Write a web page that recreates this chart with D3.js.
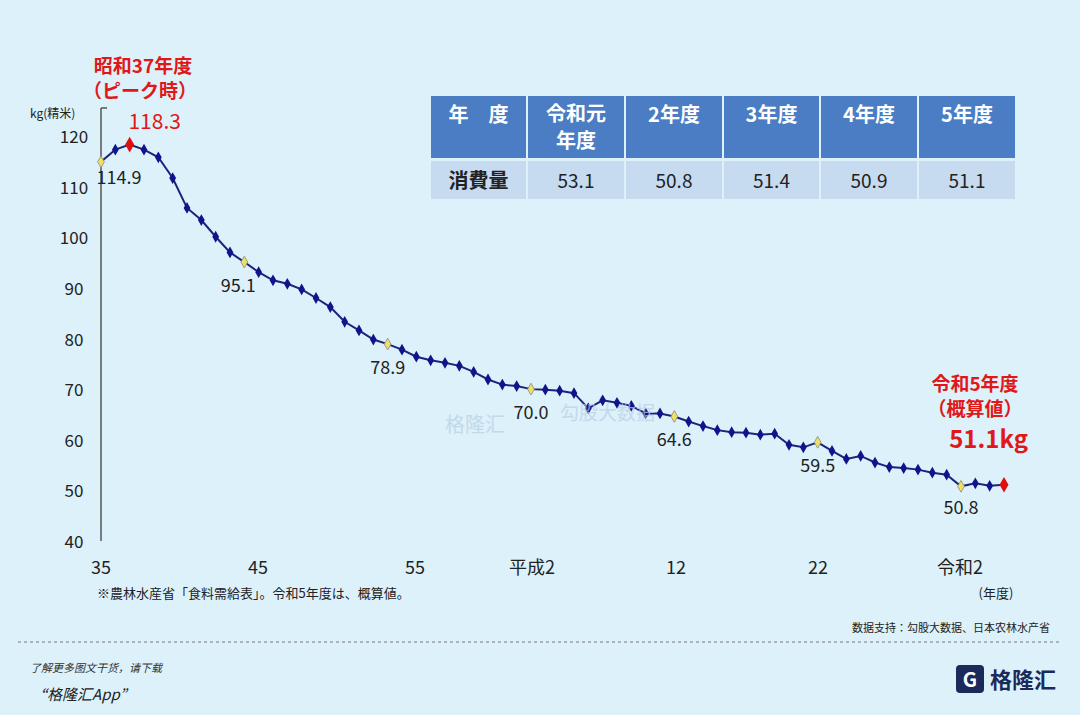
<!DOCTYPE html>
<html><head><meta charset="utf-8">
<script src="https://cdn.jsdelivr.net/npm/d3@7/dist/d3.min.js"></script>
<style>body{margin:0;background:#ddf1fb;font-family:"Noto Sans CJK JP","Noto Sans",sans-serif}</style>
</head><body><svg id="c" width="1080" height="715"></svg>
<script>
const years = d3.range(1960, 2024);
const consumption = [114.9,117.3,118.3,117.3,115.8,111.7,105.8,103.4,100.1,97.0,
95.1,93.1,91.5,90.8,89.7,88.0,86.2,83.3,81.6,79.8,
78.9,77.8,76.4,75.7,75.2,74.6,73.4,71.9,70.9,70.6,
70.0,69.9,69.7,69.2,66.2,67.8,67.3,66.7,65.2,65.2,
64.6,63.6,62.7,61.9,61.5,61.4,61.0,61.2,59.0,58.5,
59.5,57.8,56.2,56.8,55.5,54.6,54.4,54.1,53.5,53.1,
50.8,51.4,50.9,51.1];
const yTicks = [40,50,60,70,80,90,100,110,120];
const xTickLabels = ["35","45","55","平成2","12","22","令和2"];
const labeledYears = [1960,1970,1980,1990,2000,2010,2020];
const tableHead = ["年　度","令和元\n年度","2年度","3年度","4年度","5年度"];
const tableRow = ["消費量","53.1","50.8","51.4","50.9","51.1"];

const svg = d3.select("#c");
const x = d3.scaleLinear().domain([1960,2023]).range([101,1004]);
const y = d3.scaleLinear().domain([40,120]).range([541,136]);

svg.append("line").attr("x1",101).attr("x2",101).attr("y1",108).attr("y2",541).attr("stroke","#555").attr("stroke-width",1.5);
svg.append("line").attr("x1",101).attr("x2",107).attr("y1",108).attr("y2",108).attr("stroke","#555").attr("stroke-width",1.5);
svg.selectAll(".yt").data(yTicks).join("text").attr("x",74).attr("y",d=>y(d)+7)
  .attr("text-anchor","middle").attr("font-size",17).attr("fill","#222").text(d=>d);
svg.append("text").attr("x",30).attr("y",118).attr("font-size",12).attr("fill","#222").text("kg(精米)");
const xlabX = [101,258,415,532,676,818,960];
svg.selectAll(".xt").data(xTickLabels).join("text").attr("x",(d,i)=>xlabX[i]).attr("y",574)
  .attr("text-anchor","middle").attr("font-size",18).attr("fill","#222").text(d=>d);
svg.append("text").attr("x",996).attr("y",598).attr("text-anchor","middle").attr("font-size",13).attr("fill","#222").text("(年度)");
svg.append("text").attr("x",97).attr("y",598).attr("font-size",13).attr("fill","#222").text("※農林水産省「食料需給表」。令和5年度は、概算値。");

const pts = years.map((yr,i)=>({yr,v:consumption[i]}));
svg.append("path").datum(pts).attr("fill","none").attr("stroke","#1a237e").attr("stroke-width",2)
  .attr("d",d3.line().x(d=>x(d.yr)).y(d=>y(d.v)));
const diamond = d3.symbol().type(d3.symbolDiamond);
svg.selectAll(".pt").data(pts).join("path")
  .attr("transform",d=>`translate(${x(d.yr)},${y(d.v)})`)
  .attr("d",d=> diamond.size((d.yr===1962||d.yr===2023)?70:40)())
  .attr("fill",d=>(d.yr===1962||d.yr===2023)?"#e01010":labeledYears.includes(d.yr)?"#f0e060":"#10148a")
  .attr("stroke",d=>labeledYears.includes(d.yr)?"#888":"none").attr("stroke-width",0.8);
const lblOff = {1960:[18,30],1970:[-6,38],1980:[0,38],1990:[0,38],2000:[0,38],2010:[0,38],2020:[0,36]};
svg.selectAll(".pl").data(pts.filter(d=>labeledYears.includes(d.yr))).join("text")
  .attr("x",d=>x(d.yr)+lblOff[d.yr][0]).attr("y",d=>y(d.v)+lblOff[d.yr][1]-8)
  .attr("text-anchor","middle").attr("font-size",18).attr("fill","#222").text(d=>d.v.toFixed(1));

const red="#e01818";
svg.append("text").attr("x",143).attr("y",73).attr("text-anchor","middle").attr("font-size",19).attr("font-weight","bold").attr("fill",red).text("昭和37年度");
svg.append("text").attr("x",140).attr("y",98).attr("text-anchor","middle").attr("font-size",19).attr("font-weight","bold").attr("fill",red).text("（ピーク時）");
svg.append("text").attr("x",x(1962)+25).attr("y",129).attr("text-anchor","middle").attr("font-size",21).attr("fill",red).text("118.3");
svg.append("text").attr("x",975).attr("y",391).attr("text-anchor","middle").attr("font-size",19).attr("font-weight","bold").attr("fill",red).text("令和5年度");
svg.append("text").attr("x",975).attr("y",416).attr("text-anchor","middle").attr("font-size",19).attr("font-weight","bold").attr("fill",red).text("（概算値）");
svg.append("text").attr("x",1028).attr("y",448).attr("text-anchor","end").attr("font-size",24).attr("font-weight","bold").attr("fill",red).text("51.1kg");

const colX=[430,527,625,723,820,918,1016];
tableHead.forEach((t,i)=>{
  svg.append("rect").attr("x",colX[i]).attr("y",95).attr("width",colX[i+1]-colX[i]).attr("height",64).attr("fill","#4a7dc4").attr("stroke","#ddf1fb").attr("stroke-width",2);
  const lines=t.split("\n");
  lines.forEach((l,j)=>svg.append("text").attr("x",(colX[i]+colX[i+1])/2).attr("y",lines.length===1?122:121+j*27)
    .attr("text-anchor","middle").attr("font-size",20).attr("font-weight","bold").attr("fill","#fff").text(l));
  svg.append("rect").attr("x",colX[i]).attr("y",160).attr("width",colX[i+1]-colX[i]).attr("height",40).attr("fill","#c6daf0").attr("stroke","#ddf1fb").attr("stroke-width",2);
  svg.append("text").attr("x",(colX[i]+colX[i+1])/2).attr("y",188).attr("text-anchor","middle").attr("font-size",i===0?20:19).attr("font-weight",i===0?"bold":"normal").attr("fill","#222").text(tableRow[i]);
});

svg.append("text").attr("x",1050).attr("y",632).attr("text-anchor","end").attr("font-size",11).attr("fill","#222").text("数据支持：勾股大数据、日本农林水产省");
svg.append("line").attr("x1",18).attr("x2",1062).attr("y1",642).attr("y2",642).attr("stroke","#777").attr("stroke-dasharray","3,3");
svg.append("text").attr("x",30).attr("y",672).attr("font-size",11).attr("font-style","italic").attr("fill","#333").text("了解更多图文干货，请下载");
svg.append("text").attr("x",40).attr("y",700).attr("font-size",15).attr("font-style","italic").attr("fill","#222").text("“格隆汇App”");
svg.append("rect").attr("x",956).attr("y",665).attr("width",28).attr("height",28).attr("rx",4).attr("fill","#1a2a5a");
svg.append("text").attr("x",970).attr("y",687).attr("text-anchor","middle").attr("font-size",20).attr("font-weight","bold").attr("fill","#fff").text("G");
svg.append("text").attr("x",990).attr("y",688).attr("font-size",22).attr("font-weight","bold").attr("fill","#1a2a5a").text("格隆汇");
svg.append("text").attr("x",445).attr("y",432).attr("font-size",20).attr("fill","#b8cfe4").attr("opacity",0.7).text("格隆汇");
svg.append("text").attr("x",560).attr("y",420).attr("font-size",19).attr("fill","#b8cfe4").attr("opacity",0.7).text("勾股大数据");
</script></body></html>
